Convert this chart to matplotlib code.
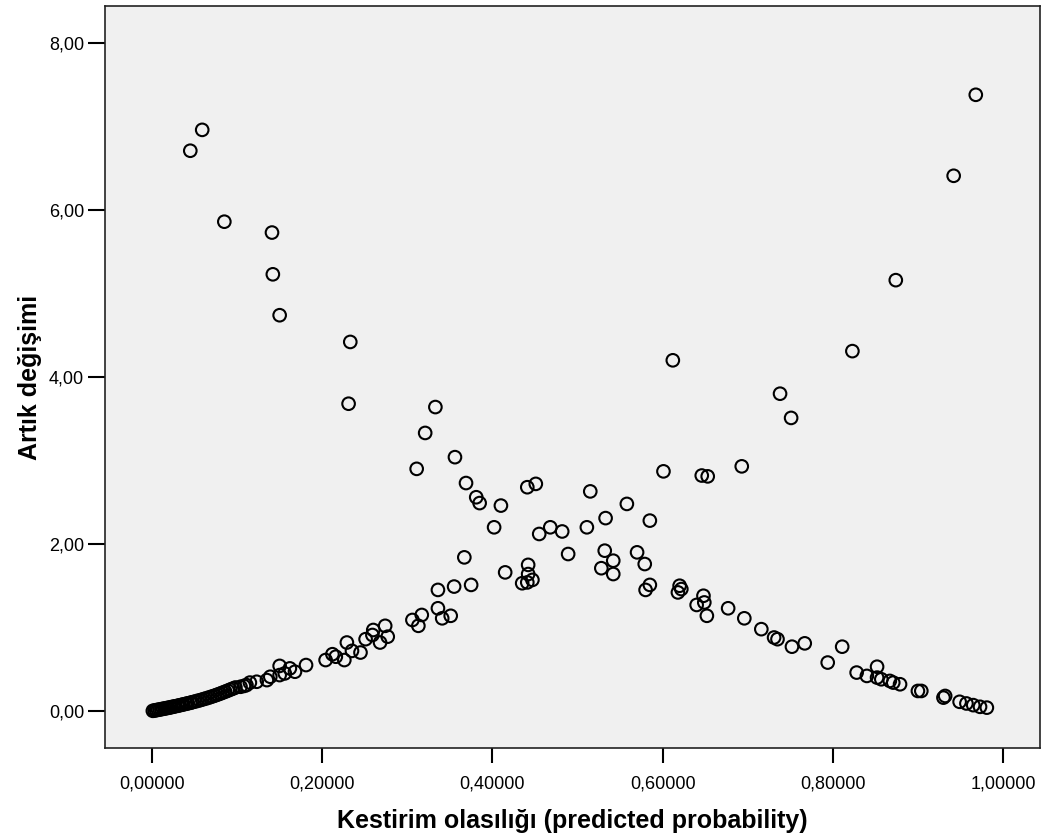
import matplotlib.pyplot as plt

# Low end of the rising branch (dense strip near zero)
probLow = [0.001, 0.003, 0.005, 0.007, 0.009, 0.011, 0.013, 0.015, 0.017, 0.019,
           0.021, 0.023, 0.025, 0.027, 0.030, 0.032, 0.035, 0.037, 0.040, 0.042,
           0.045, 0.047, 0.050, 0.053, 0.056, 0.059, 0.062, 0.065, 0.068, 0.071,
           0.074, 0.077, 0.080, 0.083, 0.086, 0.089, 0.092, 0.095, 0.098, 0.104,
           0.108, 0.111]
devLow = [0.002, 0.006, 0.010, 0.014, 0.018, 0.022, 0.026, 0.030, 0.034, 0.038,
          0.042, 0.047, 0.051, 0.056, 0.062, 0.067, 0.074, 0.079, 0.086, 0.091,
          0.098, 0.104, 0.112, 0.120, 0.128, 0.137, 0.146, 0.155, 0.165, 0.175,
          0.185, 0.196, 0.207, 0.219, 0.231, 0.243, 0.256, 0.268, 0.281, 0.290,
          0.300, 0.310]

# Rising branch
probRise = [0.115, 0.123, 0.135, 0.139, 0.150, 0.150, 0.156, 0.162, 0.168, 0.181,
            0.204, 0.212, 0.216, 0.226, 0.229, 0.235, 0.245, 0.251, 0.259, 0.260,
            0.268, 0.274, 0.277, 0.306, 0.313, 0.317, 0.336, 0.336, 0.341, 0.351,
            0.355, 0.367, 0.375, 0.415, 0.435, 0.441, 0.442, 0.442, 0.447, 0.515,
            0.533, 0.558, 0.585, 0.601, 0.612, 0.646, 0.653, 0.693, 0.738, 0.751,
            0.823, 0.874, 0.942, 0.968]
devRise = [0.34, 0.35, 0.37, 0.41, 0.43, 0.54, 0.45, 0.51, 0.47, 0.55,
           0.61, 0.68, 0.65, 0.61, 0.82, 0.72, 0.70, 0.86, 0.91, 0.97,
           0.82, 1.02, 0.89, 1.09, 1.02, 1.15, 1.23, 1.45, 1.11, 1.14,
           1.49, 1.84, 1.51, 1.66, 1.53, 1.54, 1.64, 1.75, 1.57, 2.63,
           2.31, 2.48, 2.28, 2.87, 4.20, 2.82, 2.81, 2.93, 3.80, 3.51,
           4.31, 5.16, 6.41, 7.38]

# Falling branch
probFall = [0.045, 0.059, 0.085, 0.141, 0.142, 0.150, 0.233, 0.231, 0.311, 0.321,
            0.333, 0.356, 0.369, 0.381, 0.385, 0.402, 0.410, 0.441, 0.451, 0.455,
            0.468, 0.482, 0.489, 0.511, 0.528, 0.532, 0.542, 0.542, 0.570, 0.579,
            0.580, 0.585, 0.618, 0.620, 0.622, 0.640, 0.648, 0.649, 0.652, 0.677,
            0.696, 0.716, 0.731, 0.735, 0.752, 0.767, 0.794, 0.811, 0.828, 0.840,
            0.852, 0.852, 0.857, 0.867, 0.871, 0.879, 0.900, 0.904, 0.930, 0.932,
            0.949, 0.957, 0.965, 0.973, 0.981]
devFall = [6.71, 6.96, 5.86, 5.73, 5.23, 4.74, 4.42, 3.68, 2.90, 3.33,
           3.64, 3.04, 2.73, 2.56, 2.49, 2.20, 2.46, 2.68, 2.72, 2.12,
           2.20, 2.15, 1.88, 2.20, 1.71, 1.92, 1.80, 1.64, 1.90, 1.76,
           1.45, 1.51, 1.42, 1.50, 1.46, 1.27, 1.38, 1.30, 1.14, 1.23,
           1.11, 0.98, 0.88, 0.86, 0.77, 0.81, 0.58, 0.77, 0.46, 0.42,
           0.53, 0.40, 0.38, 0.36, 0.34, 0.32, 0.24, 0.24, 0.16, 0.18,
           0.11, 0.09, 0.07, 0.05, 0.04]

xTicks = [0.0, 0.2, 0.4, 0.6, 0.8, 1.0]
xTickLabels = ["0,00000", "0,20000", "0,40000", "0,60000", "0,80000", "1,00000"]
yTicks = [0, 2, 4, 6, 8]
yTickLabels = ["0,00", "2,00", "4,00", "6,00", "8,00"]

plt.rcParams['font.family'] = ['Liberation Sans', 'DejaVu Sans']

fig = plt.figure(figsize=(10.46, 8.39), dpi=100)
ax = fig.add_axes([0.1004, 0.1085, 0.8939, 0.8843])
ax.set_facecolor('#f0f0f0')

# All points share one style
for xs, ys in [(probLow, devLow), (probRise, devRise), (probFall, devFall)]:
    ax.scatter(xs, ys, s=82, facecolors='none', edgecolors='black', linewidths=1.5, zorder=3)

ax.set_xlim(-0.0552, 1.0435)
ax.set_ylim(-0.443, 8.443)

ax.set_xticks(xTicks)
ax.set_xticklabels(xTickLabels)
ax.set_yticks(yTicks)
ax.set_yticklabels(yTickLabels)
ax.tick_params(axis='x', direction='out', length=11, width=1.5, pad=9, labelsize=13)
ax.tick_params(axis='y', direction='out', length=12, width=1.5, pad=3, labelsize=13)

for spine in ax.spines.values():
    spine.set_color('#222222')
    spine.set_linewidth(1.2)

ax.set_xlabel('Kestirim olasılığı (predicted probability)', fontsize=18, fontweight='bold', va='center')
ax.set_ylabel('Artık değişimi', fontsize=18, fontweight='bold', va='center')
ax.xaxis.set_label_coords(0.5, -0.098)
ax.yaxis.set_label_coords(-0.080, 0.5)

fig.savefig('out.png', dpi=100)
